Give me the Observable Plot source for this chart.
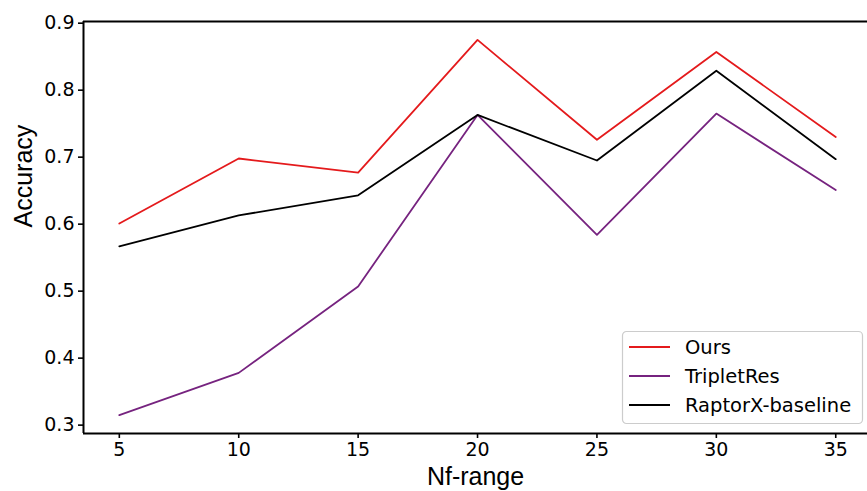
<!DOCTYPE html>
<html>
<head>
<meta charset="utf-8">
<script src="https://cdn.jsdelivr.net/npm/d3@7"></script>
<script src="https://cdn.jsdelivr.net/npm/@observablehq/plot@0.6"></script>
<style>
  html, body { margin: 0; padding: 0; background: #fff; }
  #chart { position: relative; width: 867px; height: 491px; overflow: hidden; }
</style>
</head>
<body>
<div id="chart"></div>
<script>
const nfRange = [5, 10, 15, 20, 25, 30, 35];
const seriesNames = ["Ours", "TripletRes", "RaptorX-baseline"];
const seriesColors = ["#e41a1c", "#76237f", "#000000"];
const ours = [0.601, 0.698, 0.677, 0.875, 0.726, 0.857, 0.730];
const tripletRes = [0.315, 0.378, 0.507, 0.763, 0.584, 0.765, 0.651];
const raptorX = [0.567, 0.613, 0.643, 0.763, 0.695, 0.829, 0.697];
const yTicks = [0.3, 0.4, 0.5, 0.6, 0.7, 0.8, 0.9];
const xTicks = [5, 10, 15, 20, 25, 30, 35];
const xDomain = [3.5, 36.33];
const yDomain = [0.2875, 0.9025];

const allSeries = [ours, tripletRes, raptorX];
const data = [];
allSeries.forEach((vals, si) => {
  vals.forEach((v, i) => data.push({ x: nfRange[i], y: v, s: seriesNames[si] }));
});

const tickFont = "DejaVu Sans, sans-serif";
const labelFont = "Liberation Sans, Arial, sans-serif";

const plot = Plot.plot({
  width: 867,
  height: 491,
  marginLeft: 83,
  marginRight: 0,
  marginTop: 21,
  marginBottom: 58,
  style: { fontFamily: tickFont, background: "#fff", overflow: "visible" },
  x: { domain: xDomain },
  y: { domain: yDomain },
  color: { domain: seriesNames, range: seriesColors },
  marks: [
    Plot.axisX({ ticks: xTicks, tickSize: 5, tickPadding: 4, fontSize: 19, fontFamily: tickFont, tickFormat: d => String(d), label: null, stroke: "#000", strokeWidth: 1.6, fill: "#000" }),
    Plot.axisY({ ticks: yTicks, tickSize: 5, tickPadding: 4, fontSize: 19, fontFamily: tickFont, tickFormat: d3.format(".1f"), label: null, stroke: "#000", strokeWidth: 1.6, fill: "#000" }),
    Plot.ruleX([xDomain[0]], { stroke: "#000", strokeWidth: 2 }),
    Plot.ruleY([yDomain[0], yDomain[1]], { stroke: "#000", strokeWidth: 2 }),
    Plot.line(data, { x: "x", y: "y", z: "s", stroke: "s", strokeWidth: 1.8 }),
    Plot.text(["Accuracy"], { frameAnchor: "left", dx: -60, rotate: -90, fontSize: 25, fontFamily: labelFont, fill: "#000" }),
    Plot.text(["Nf-range"], { frameAnchor: "bottom", dy: 43, lineAnchor: "middle", fontSize: 25, fontFamily: labelFont, fill: "#000" })
  ]
});

document.getElementById("chart").appendChild(plot);

// Legend
const svg = d3.select(plot);
const lg = svg.append("g").attr("transform", "translate(622,331)");
lg.append("rect")
  .attr("x", 0.5).attr("y", 0.5).attr("width", 240).attr("height", 92)
  .attr("rx", 4).attr("ry", 4)
  .attr("fill", "#fff").attr("fill-opacity", 0.8)
  .attr("stroke", "#cccccc").attr("stroke-width", 1.2);
seriesNames.forEach((name, i) => {
  const cy = 16 + i * 29;
  lg.append("line")
    .attr("x1", 7).attr("x2", 48).attr("y1", cy).attr("y2", cy)
    .attr("stroke", seriesColors[i]).attr("stroke-width", 1.8);
  lg.append("text")
    .attr("x", 63).attr("y", cy).attr("dy", "0.35em")
    .attr("text-anchor", "start")
    .attr("font-family", tickFont).attr("font-size", 19.5)
    .attr("fill", "#000")
    .text(name);
});
</script>
</body>
</html>
